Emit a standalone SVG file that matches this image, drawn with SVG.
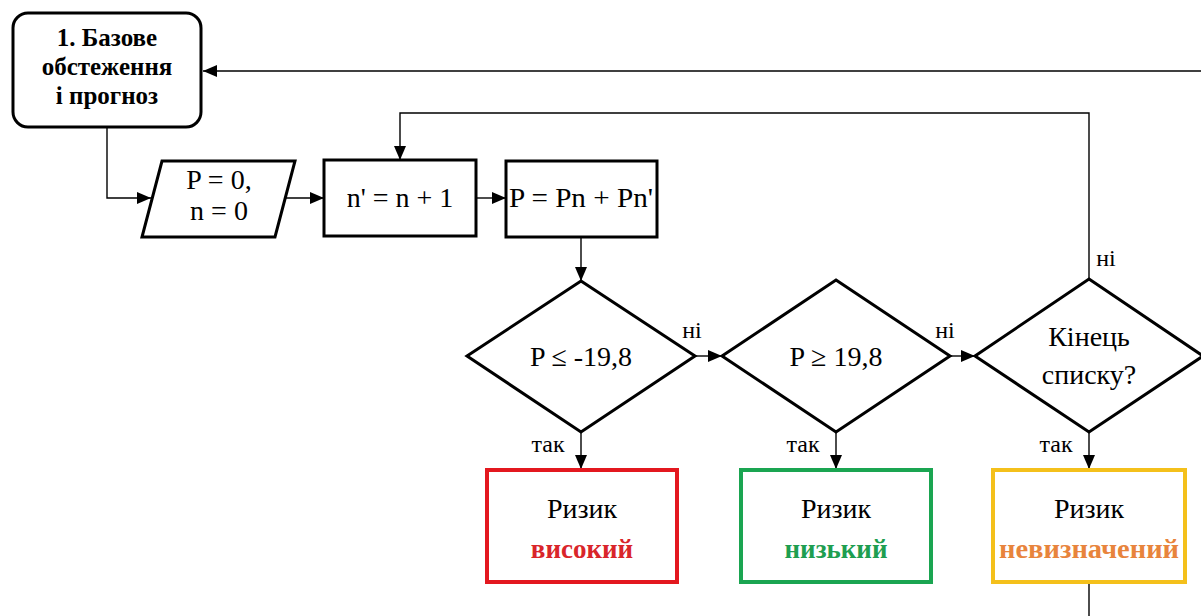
<svg xmlns="http://www.w3.org/2000/svg" width="1201" height="616" viewBox="0 0 1201 616" font-family="'Liberation Serif', 'DejaVu Serif', serif">
<style>
text{font-family:"Liberation Serif","DejaVu Serif",serif}
.t{font-size:28px;fill:#000;text-anchor:middle}
.b{font-weight:bold;font-size:25px}
.l{font-size:24px}
.r{font-weight:bold;font-size:27px}
.sh{fill:#fff;stroke:#000;stroke-width:3}
.c{fill:none;stroke:#000;stroke-width:1.4}
</style>
<defs>
<marker id="ah" viewBox="0 0 14 12" refX="14" refY="6" markerWidth="14" markerHeight="12" markerUnits="userSpaceOnUse" orient="auto">
<path d="M0,0 L14,6 L0,12 Z" fill="#000"/>
</marker>
</defs>
<rect width="1201" height="616" fill="#fff"/>
<g id="connectors">
<path class="c" d="M1201,71 L203,71" marker-end="url(#ah)"/>
<path class="c" d="M107,127 L107,198 L151,198" marker-end="url(#ah)"/>
<path class="c" d="M285,198 L324,198" marker-end="url(#ah)"/>
<path class="c" d="M476,198 L506,198" marker-end="url(#ah)"/>
<path class="c" d="M581,237 L581,281" marker-end="url(#ah)"/>
<path class="c" d="M695,356 L722,356" marker-end="url(#ah)"/>
<path class="c" d="M950,356 L975,356" marker-end="url(#ah)"/>
<path class="c" d="M1089,280 L1089,113 L400,113 L400,160" marker-end="url(#ah)"/>
<path class="c" d="M581,432 L581,469" marker-end="url(#ah)"/>
<path class="c" d="M836,432 L836,469" marker-end="url(#ah)"/>
<path class="c" d="M1089,432 L1089,469" marker-end="url(#ah)"/>
<path class="c" d="M1089,583 L1089,616"/>
<text class="t l" x="692" y="338">ні</text>
<text class="t l" x="945" y="338">ні</text>
<text class="t l" x="1106" y="266">ні</text>
<text class="t l" x="548" y="452">так</text>
<text class="t l" x="803" y="452">так</text>
<text class="t l" x="1056" y="452">так</text>
</g>
<g id="n1">
<rect class="sh" x="13" y="13" width="188" height="114" rx="15"/>
<text class="t b" x="107" y="46">1. Базове</text>
<text class="t b" x="107" y="75">обстеження</text>
<text class="t b" x="107" y="104">і прогноз</text>
</g>
<g id="n2">
<polygon class="sh" points="162,161 295,161 275,237 142,237"/>
<text class="t" x="219" y="189">P = 0,</text>
<text class="t" x="219" y="220">n = 0</text>
</g>
<g id="n3">
<rect class="sh" x="324" y="160" width="152" height="76"/>
<text class="t" x="400" y="207">n' = n + 1</text>
</g>
<g id="n4">
<rect class="sh" x="506" y="161" width="151" height="76"/>
<text class="t" x="581" y="207" textLength="144" lengthAdjust="spacingAndGlyphs">P = Pn + Pn'</text>
</g>
<g id="d1">
<polygon class="sh" points="581,281 695,356 581,432 467,356"/>
<text class="t" x="581" y="366">P ≤ -19,8</text>
</g>
<g id="d2">
<polygon class="sh" points="836,280 950,356 836,432 722,356"/>
<text class="t" x="836" y="366">P ≥ 19,8</text>
</g>
<g id="d3">
<polygon class="sh" points="1089,279 1203,356 1089,432 975,356"/>
<text class="t" x="1089" y="346">Кінець</text>
<text class="t" x="1089" y="384">списку?</text>
</g>
<g id="r1">
<rect x="487" y="470" width="190" height="112" fill="#fff" stroke="#e3181f" stroke-width="4"/>
<text class="t" x="582" y="518">Ризик</text>
<text class="t r" x="582" y="558" style="fill:#d9252a">високий</text>
</g>
<g id="r2">
<rect x="741" y="470" width="190" height="112" fill="#fff" stroke="#1aa551" stroke-width="4"/>
<text class="t" x="836" y="518">Ризик</text>
<text class="t r" x="836" y="558" style="fill:#1e9e50">низький</text>
</g>
<g id="r3">
<rect x="993" y="470" width="192" height="112" fill="#fff" stroke="#f4c01b" stroke-width="4"/>
<text class="t" x="1089" y="518">Ризик</text>
<text class="t r" x="1089" y="558" style="fill:#e8843c" textLength="180" lengthAdjust="spacingAndGlyphs">невизначений</text>
</g>
</svg>
